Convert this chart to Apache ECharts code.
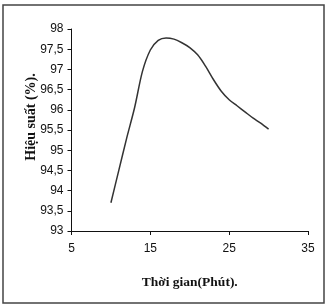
<!DOCTYPE html>
<html><head><meta charset="utf-8">
<script src="https://cdn.jsdelivr.net/npm/echarts@6/dist/echarts.min.js"></script>
<style>html,body{margin:0;padding:0;background:#fff}#c{width:330px;height:308px}</style>
</head><body><div id="c"></div>
<script>
const times = [10, 11, 12, 13, 14, 15, 16, 17, 18, 19, 20, 21, 22, 23, 24, 25, 26, 27, 28, 29, 30];
const efficiency = [93.7, 94.5, 95.3, 96.05, 96.95, 97.48, 97.72, 97.78, 97.75, 97.66, 97.54, 97.36, 97.08, 96.75, 96.46, 96.25, 96.1, 95.95, 95.8, 95.67, 95.52];
const xTicks = [5, 15, 25, 35];
const yTicks = [93, 93.5, 94, 94.5, 95, 95.5, 96, 96.5, 97, 97.5, 98];
const xTitle = 'Thời gian(Phút).';
const yTitle = 'Hiệu suất (%).';

const chart = echarts.init(document.getElementById('c'), null, {renderer: 'canvas'});
const lbl = {color: '#111', fontFamily: 'Liberation Sans, Arial, sans-serif', fontSize: 12};
const serif = 'Liberation Serif, Times New Roman, serif';
chart.setOption({
  animation: false,
  graphic: [
    {type: 'rect', shape: {x: 3, y: 5, width: 321, height: 298}, style: {fill: 'none', stroke: '#444', lineWidth: 1.5}},
    {type: 'text', x: 31, y: 117, rotation: Math.PI / 2,
     style: {text: yTitle, font: 'bold 14px ' + serif, fill: '#111', align: 'center', verticalAlign: 'middle'}}
  ],
  grid: {left: 71.5, right: 22, top: 29, bottom: 77},
  xAxis: {
    type: 'value', min: xTicks[0], max: xTicks[xTicks.length - 1], interval: 10,
    name: xTitle, nameLocation: 'middle', nameGap: 45,
    nameTextStyle: {fontFamily: serif, fontWeight: 'bold', fontSize: 13.5, color: '#111'},
    axisLine: {lineStyle: {color: '#111', width: 1}},
    axisTick: {show: true, length: 4, inside: false, lineStyle: {color: '#111'}},
    splitLine: {show: false},
    axisLabel: Object.assign({margin: 12}, lbl)
  },
  yAxis: {
    type: 'value', min: yTicks[0], max: yTicks[yTicks.length - 1], interval: 0.5,
    axisLine: {show: true, lineStyle: {color: '#111', width: 1}},
    axisTick: {show: true, length: 4, lineStyle: {color: '#111'}},
    splitLine: {show: false},
    axisLabel: Object.assign({margin: 8, formatter: v => String(v).replace('.', ',')}, lbl)
  },
  series: [{
    type: 'line', smooth: 0.3, symbol: 'none',
    data: times.map((t, i) => [t, efficiency[i]]),
    lineStyle: {color: '#333', width: 1.5}
  }]
});
</script></body></html>
